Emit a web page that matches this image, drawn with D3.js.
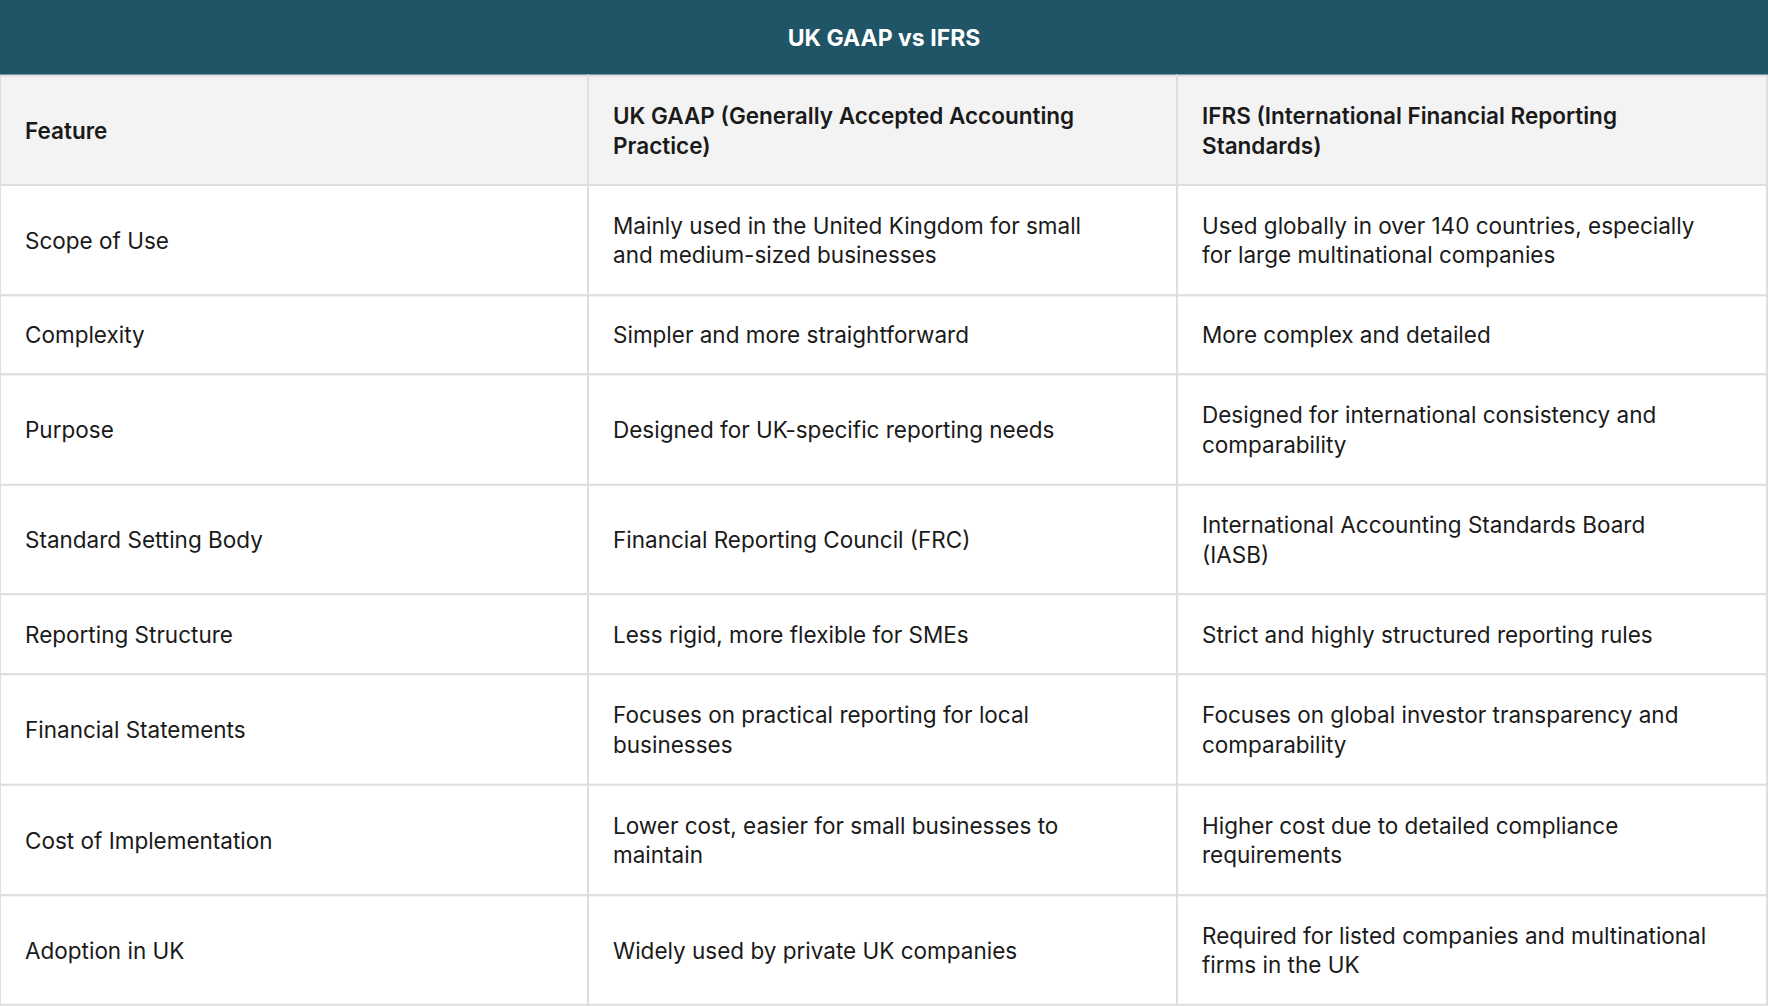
<!DOCTYPE html><html><head><meta charset="utf-8"><script src="https://cdn.jsdelivr.net/npm/d3@7"></script>
<style>body{margin:0;background:#fff}svg{display:block}</style></head><body><svg id="c" width="1768" height="1006"></svg><script>
const title="UK GAAP vs IFRS";
const headers=["Feature","UK GAAP (Generally Accepted Accounting\nPractice)","IFRS (International Financial Reporting\nStandards)"];
const features=["Scope of Use","Complexity","Purpose","Standard Setting Body","Reporting Structure","Financial Statements","Cost of Implementation","Adoption in UK"];
const ukgaap=["Mainly used in the United Kingdom for small\nand medium-sized businesses","Simpler and more straightforward","Designed for UK-specific reporting needs","Financial Reporting Council (FRC)","Less rigid, more flexible for SMEs","Focuses on practical reporting for local\nbusinesses","Lower cost, easier for small businesses to\nmaintain","Widely used by private UK companies"];
const ifrs=["Used globally in over 140 countries, especially\nfor large multinational companies","More complex and detailed","Designed for international consistency and\ncomparability","International Accounting Standards Board\n(IASB)","Strict and highly structured reporting rules","Focuses on global investor transparency and\ncomparability","Higher cost due to detailed compliance\nrequirements","Required for listed companies and multinational\nfirms in the UK"];
const rowBounds=[75.5,185,295.4,374.4,484.9,594.2,674.3,784.8,895.3,1004.7];
const colBounds=[0,588,1177,1767];
const svg=d3.select("#c"),F="Inter, 'Noto Sans', sans-serif";
svg.append("rect").attr("width",1768).attr("height",75.5).attr("fill","#1f5566");
svg.append("text").attr("x",884).attr("y",38).attr("text-anchor","middle").attr("dominant-baseline","central").attr("fill","#fff").attr("font-family",F).attr("font-weight",700).attr("font-size",23).text(title);
const rows=[headers,...features.map((f,i)=>[f,ukgaap[i],ifrs[i]])];
rows.forEach((r,ri)=>{
 const y0=rowBounds[ri],y1=rowBounds[ri+1];
 r.forEach((t,ci)=>{
  const x0=colBounds[ci],x1=colBounds[ci+1];
  svg.append("rect").attr("x",x0).attr("y",y0).attr("width",x1-x0).attr("height",y1-y0).attr("fill",ri==0?"#f3f3f3":"#fff").attr("stroke","#dedede").attr("stroke-width",2);
  const lines=t.split("\n"),lh=29.5,cy=(y0+y1)/2;
  const tx=svg.append("text").attr("font-family",F).attr("font-size",22.5).attr("fill","#1a1a1a").attr("font-weight",ri==0?600:400);
  lines.forEach((l,li)=>tx.append("tspan").attr("x",x0+25).attr("y",cy+(li-(lines.length-1)/2)*lh).attr("dominant-baseline","central").text(l));
 });
});
</script></body></html>
